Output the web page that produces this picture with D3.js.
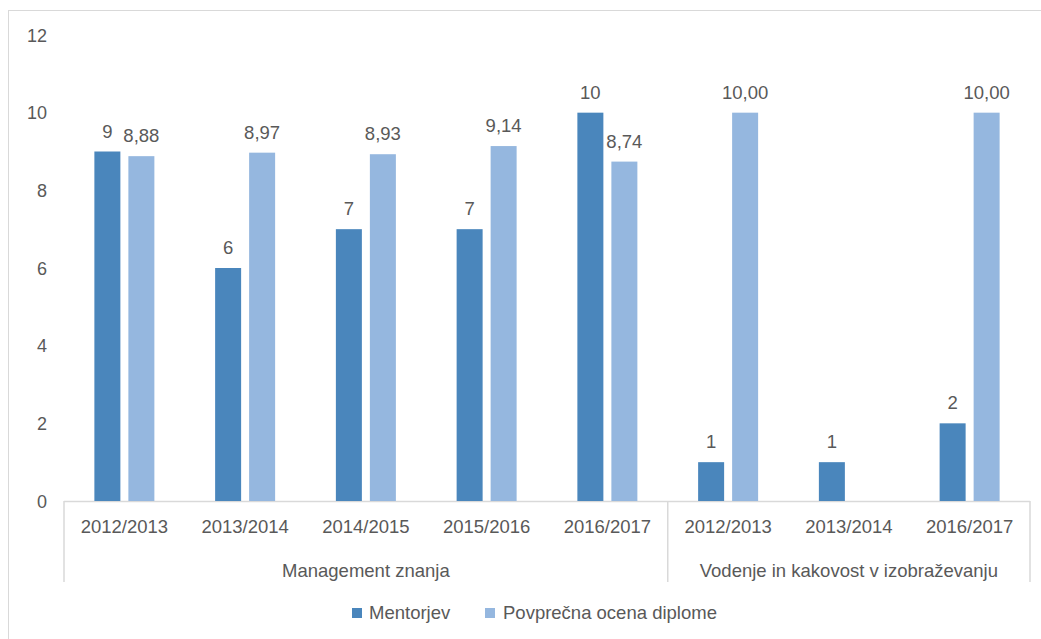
<!DOCTYPE html>
<html><head><meta charset="utf-8">
<script src="https://cdn.jsdelivr.net/npm/d3@7"></script>
<style>body{margin:0;background:#fff}svg text{font-family:"Liberation Sans",Arial,sans-serif;fill:#595959}</style>
</head><body><svg id="c" width="1041" height="639"></svg>
<script>
const groups = ["Management znanja","Vodenje in kakovost v izobraževanju"];
const categories = ["2012/2013","2013/2014","2014/2015","2015/2016","2016/2017","2012/2013","2013/2014","2016/2017"];
const categoryGroup = [0,0,0,0,0,1,1,1];
const mentorjev = [9,6,7,7,10,1,1,2];
const ocena = [8.88,8.97,8.93,9.14,8.74,10.00,null,10.00];
const seriesNames = ["Mentorjev","Povprečna ocena diplome"];
const yTicks = [0,2,4,6,8,10,12];

const colors = ["#4a86bc","#95b7df"];
const svg = d3.select("#c");
const m = {l:64, r:1030, t:35, b:501};
svg.append("rect").attr("x",8.5).attr("y",10.5).attr("width",1040).attr("height",640)
  .attr("fill","none").attr("stroke","#d9d9d9");

const x = d3.scaleBand().domain(d3.range(categories.length)).range([m.l,m.r]).paddingInner(0).paddingOuter(0);
const y = d3.scaleLinear().domain([0,12]).range([m.b,m.t]);
const bw = 26, gap = 8;

// y axis labels
const yAxis = d3.axisLeft(y).tickValues(yTicks).tickSize(0).tickPadding(0);
const ya = svg.append("g").attr("transform","translate(47,0)").call(yAxis);
ya.select(".domain").remove();
ya.selectAll("text").style("font-size","18px").attr("dy","0.35em").attr("fill","#595959");

// x axis line
svg.append("line").attr("x1",m.l).attr("x2",m.r).attr("y1",m.b+0.5).attr("y2",m.b+0.5).attr("stroke","#d9d9d9").attr("stroke-width",1.5);
// separators
const bounds = [0,5,8].map(i => i<categories.length ? x(i) : m.r);
bounds.forEach(bx => svg.append("line").attr("x1",bx).attr("x2",bx).attr("y1",m.b).attr("y2",582).attr("stroke","#d9d9d9").attr("stroke-width",1.5));

// category labels
svg.append("g").selectAll("text").data(categories).join("text")
  .attr("x",(d,i)=>x(i)+x.bandwidth()/2).attr("y",533).attr("text-anchor","middle")
  .style("font-size","18.5px").text(d=>d);
// group labels
groups.forEach((g,gi)=>{
  const idx = categoryGroup.map((v,i)=>v===gi?i:-1).filter(i=>i>=0);
  const x0 = x(idx[0]), x1 = x(idx[idx.length-1])+x.bandwidth();
  svg.append("text").attr("x",(x0+x1)/2).attr("y",577).attr("text-anchor","middle").style("font-size","18.5px").text(g);
});

const series = [mentorjev, ocena];
series.forEach((s,si)=>{
  const off = si===0 ? -(gap/2+bw) : gap/2;
  const g = svg.append("g");
  const data = s.map((v,i)=>({v,i})).filter(d=>d.v!==null);
  g.selectAll("rect").data(data).join("rect")
    .attr("x",d=>x(d.i)+x.bandwidth()/2+off).attr("width",bw)
    .attr("y",d=>y(d.v)).attr("height",d=>y(0)-y(d.v)).attr("fill",colors[si]);
  g.selectAll("text").data(data).join("text")
    .attr("x",d=>x(d.i)+x.bandwidth()/2+off+bw/2).attr("y",d=>y(d.v)-14)
    .attr("text-anchor","middle").style("font-size","18.5px")
    .text(d=> si===0 ? String(d.v) : d.v.toFixed(2).replace(".",","));
});

// legend
const leg = [{x:352,tx:369},{x:485,tx:503}];
seriesNames.forEach((n,i)=>{
  svg.append("rect").attr("x",leg[i].x).attr("y",608).attr("width",10).attr("height",10).attr("fill",colors[i]);
  svg.append("text").attr("x",leg[i].tx).attr("y",619).style("font-size","18.5px").text(n);
});
</script></body></html>
